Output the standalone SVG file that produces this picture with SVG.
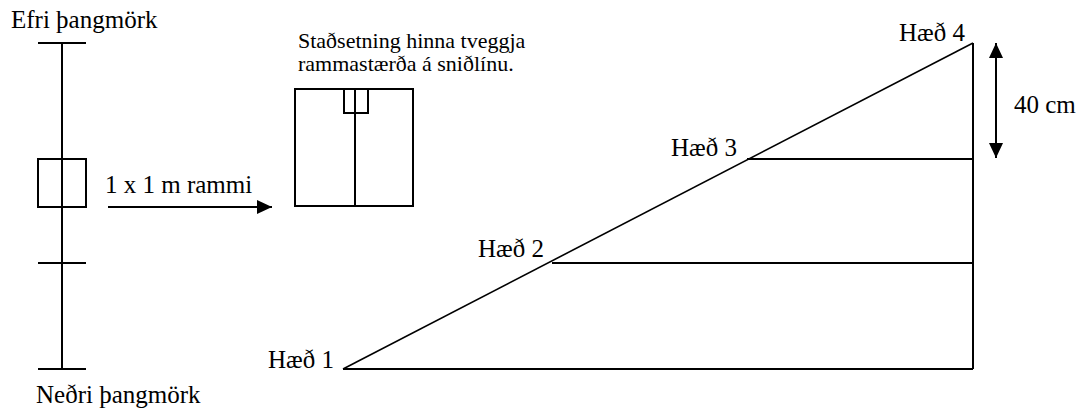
<svg xmlns="http://www.w3.org/2000/svg" width="1086" height="412" viewBox="0 0 1086 412">
<style>
line,rect{stroke:#000;stroke-width:2;fill:none}
line.thin{stroke-width:1.6}
text{font-family:"Liberation Serif","Times New Roman",serif;font-size:25px;fill:#000}
text.s{font-size:22px}
</style>
<defs>
<marker id="ah" viewBox="0 0 15 14" refX="15" refY="7" markerWidth="15" markerHeight="14" markerUnits="userSpaceOnUse" orient="auto-start-reverse">
<path d="M0,0 L15,7 L0,14 Z" fill="#000"/>
</marker>
</defs>
<rect width="1086" height="412" fill="#fff" style="stroke:none"/>
<g id="transect">
<line x1="62" y1="43" x2="62" y2="369"/>
<line x1="38" y1="43" x2="86" y2="43"/>
<line x1="38" y1="263" x2="86" y2="263"/>
<line x1="38" y1="369" x2="86" y2="369"/>
<rect x="38" y="159" width="48" height="48"/>
<text x="11" y="28">Efri þangmörk</text>
<text x="36" y="403">Neðri þangmörk</text>
</g>
<g id="frame">
<rect x="295" y="89" width="118" height="117"/>
<line x1="355" y1="89" x2="355" y2="206"/>
<rect x="344" y="89" width="24" height="24"/>
<text class="s" x="298" y="48">Staðsetning hinna tveggja</text>
<text class="s" x="298" y="71">rammastærða á sniðlínu.</text>
</g>
<g id="profile">
<line class="thin" x1="343" y1="369" x2="973" y2="43"/>
<line x1="343" y1="369" x2="973" y2="369"/>
<line x1="973" y1="43" x2="973" y2="369"/>
<line x1="552" y1="263" x2="973" y2="263"/>
<line x1="747" y1="159" x2="973" y2="159"/>
<text x="268" y="368">Hæð 1</text>
<text x="478" y="257">Hæð 2</text>
<text x="671" y="156">Hæð 3</text>
<text x="899" y="41">Hæð 4</text>
</g>
<g id="connectors">
<line x1="108" y1="207" x2="272" y2="207" marker-end="url(#ah)"/>
<line x1="996" y1="43" x2="996" y2="158" marker-start="url(#ah)" marker-end="url(#ah)"/>
<text x="105" y="193">1 x 1 m rammi</text>
<text x="1014" y="113">40 cm</text>
</g>
</svg>
